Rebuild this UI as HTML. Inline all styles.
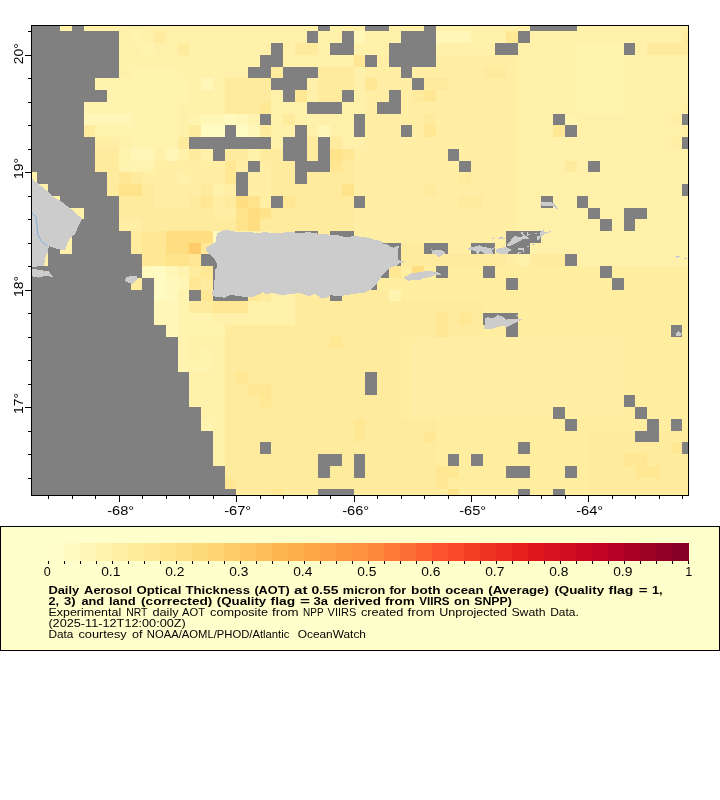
<!DOCTYPE html>
<html><head><meta charset="utf-8"><title>AOT map</title>
<style>
html,body{margin:0;padding:0;background:#fff;}
body{width:720px;height:800px;overflow:hidden;font-family:"Liberation Sans",sans-serif;}
svg{display:block;}
text{font-family:"Liberation Sans",sans-serif;fill:#000;}
.t12{font-size:12px;}
.t10n{font-size:10.5px;}
.t10b{font-size:10.5px;font-weight:bold;}
</style></head><body>
<svg width="720" height="800" viewBox="0 0 720 800">
<rect x="0" y="0" width="720" height="800" fill="#fff"/>
<g shape-rendering="crispEdges">
<rect x="31" y="25" width="29" height="6" fill="#808080"/>
<rect x="60" y="25" width="12" height="6" fill="#FFF1A9"/>
<rect x="72" y="25" width="12" height="6" fill="#808080"/>
<rect x="84" y="25" width="234" height="6" fill="#FFF1A9"/>
<rect x="318" y="25" width="12" height="6" fill="#808080"/>
<rect x="330" y="25" width="35" height="6" fill="#FFF1A9"/>
<rect x="365" y="25" width="24" height="6" fill="#808080"/>
<rect x="389" y="25" width="35" height="6" fill="#FFF1A9"/>
<rect x="424" y="25" width="12" height="6" fill="#808080"/>
<rect x="436" y="25" width="94" height="6" fill="#FFF1A9"/>
<rect x="530" y="25" width="47" height="6" fill="#808080"/>
<rect x="577" y="25" width="112" height="6" fill="#FFF1A9"/>
<rect x="31" y="31" width="88" height="12" fill="#808080"/>
<rect x="119" y="31" width="12" height="12" fill="#FFF1A9"/>
<rect x="131" y="31" width="11" height="12" fill="#FFF3B0"/>
<rect x="142" y="31" width="12" height="12" fill="#FFF1A9"/>
<rect x="154" y="31" width="12" height="12" fill="#FFEB9D"/>
<rect x="166" y="31" width="141" height="12" fill="#FFF1A9"/>
<rect x="307" y="31" width="11" height="12" fill="#808080"/>
<rect x="318" y="31" width="24" height="12" fill="#FFF1A9"/>
<rect x="342" y="31" width="12" height="12" fill="#808080"/>
<rect x="354" y="31" width="11" height="12" fill="#FFF6B7"/>
<rect x="365" y="31" width="36" height="12" fill="#FFF1A9"/>
<rect x="401" y="31" width="35" height="12" fill="#808080"/>
<rect x="436" y="31" width="35" height="12" fill="#FFF6B7"/>
<rect x="471" y="31" width="35" height="12" fill="#FFF1A9"/>
<rect x="506" y="31" width="12" height="12" fill="#FFE794"/>
<rect x="518" y="31" width="12" height="12" fill="#808080"/>
<rect x="530" y="31" width="152" height="12" fill="#FFF1A9"/>
<rect x="682" y="31" width="7" height="12" fill="#FFEB9D"/>
<rect x="31" y="43" width="88" height="12" fill="#808080"/>
<rect x="119" y="43" width="23" height="12" fill="#FFF1A9"/>
<rect x="142" y="43" width="12" height="12" fill="#FFF3B0"/>
<rect x="154" y="43" width="24" height="12" fill="#FFF1A9"/>
<rect x="178" y="43" width="11" height="12" fill="#FFEB9D"/>
<rect x="189" y="43" width="82" height="12" fill="#FFF1A9"/>
<rect x="271" y="43" width="12" height="12" fill="#808080"/>
<rect x="283" y="43" width="12" height="12" fill="#FFF1A9"/>
<rect x="295" y="43" width="23" height="12" fill="#FFEB9D"/>
<rect x="318" y="43" width="12" height="12" fill="#FFF1A9"/>
<rect x="330" y="43" width="24" height="12" fill="#808080"/>
<rect x="354" y="43" width="35" height="12" fill="#FFF1A9"/>
<rect x="389" y="43" width="47" height="12" fill="#808080"/>
<rect x="436" y="43" width="59" height="12" fill="#FFF1A9"/>
<rect x="495" y="43" width="23" height="12" fill="#808080"/>
<rect x="518" y="43" width="59" height="12" fill="#FFF1A9"/>
<rect x="577" y="43" width="47" height="12" fill="#FFF3B0"/>
<rect x="624" y="43" width="11" height="12" fill="#808080"/>
<rect x="635" y="43" width="12" height="12" fill="#FFF1A9"/>
<rect x="647" y="43" width="42" height="12" fill="#FFEB9D"/>
<rect x="31" y="55" width="88" height="12" fill="#808080"/>
<rect x="119" y="55" width="141" height="12" fill="#FFF1A9"/>
<rect x="260" y="55" width="23" height="12" fill="#808080"/>
<rect x="283" y="55" width="71" height="12" fill="#FFF1A9"/>
<rect x="354" y="55" width="11" height="12" fill="#FFE794"/>
<rect x="365" y="55" width="12" height="12" fill="#808080"/>
<rect x="377" y="55" width="12" height="12" fill="#FFEEA4"/>
<rect x="389" y="55" width="47" height="12" fill="#808080"/>
<rect x="436" y="55" width="82" height="12" fill="#FFEEA4"/>
<rect x="518" y="55" width="59" height="12" fill="#FFF1A9"/>
<rect x="577" y="55" width="47" height="12" fill="#FFF3B0"/>
<rect x="624" y="55" width="65" height="12" fill="#FFF1A9"/>
<rect x="31" y="67" width="88" height="11" fill="#808080"/>
<rect x="119" y="67" width="12" height="11" fill="#FFF1A9"/>
<rect x="131" y="67" width="47" height="11" fill="#FFF3B0"/>
<rect x="178" y="67" width="70" height="11" fill="#FFF1A9"/>
<rect x="248" y="67" width="23" height="11" fill="#808080"/>
<rect x="271" y="67" width="12" height="11" fill="#FFEB9D"/>
<rect x="283" y="67" width="35" height="11" fill="#808080"/>
<rect x="318" y="67" width="36" height="11" fill="#FFEB9D"/>
<rect x="354" y="67" width="11" height="11" fill="#FFF1A9"/>
<rect x="365" y="67" width="36" height="11" fill="#FFEEA4"/>
<rect x="401" y="67" width="11" height="11" fill="#808080"/>
<rect x="412" y="67" width="71" height="11" fill="#FFEEA4"/>
<rect x="483" y="67" width="23" height="11" fill="#FFEB9D"/>
<rect x="506" y="67" width="12" height="11" fill="#FFEEA4"/>
<rect x="518" y="67" width="59" height="11" fill="#FFF1A9"/>
<rect x="577" y="67" width="47" height="11" fill="#FFF3B0"/>
<rect x="624" y="67" width="65" height="11" fill="#FFF1A9"/>
<rect x="31" y="78" width="64" height="12" fill="#808080"/>
<rect x="95" y="78" width="94" height="12" fill="#FFF3B0"/>
<rect x="189" y="78" width="12" height="12" fill="#FFF1A9"/>
<rect x="201" y="78" width="12" height="12" fill="#FFF6B7"/>
<rect x="213" y="78" width="12" height="12" fill="#FFF1A9"/>
<rect x="225" y="78" width="46" height="12" fill="#FFEB9D"/>
<rect x="271" y="78" width="36" height="12" fill="#808080"/>
<rect x="307" y="78" width="11" height="12" fill="#FFF1A9"/>
<rect x="318" y="78" width="36" height="12" fill="#FFEB9D"/>
<rect x="354" y="78" width="11" height="12" fill="#FFF1A9"/>
<rect x="365" y="78" width="12" height="12" fill="#FFE794"/>
<rect x="377" y="78" width="35" height="12" fill="#FFEEA4"/>
<rect x="412" y="78" width="12" height="12" fill="#808080"/>
<rect x="424" y="78" width="24" height="12" fill="#FFEB9D"/>
<rect x="448" y="78" width="70" height="12" fill="#FFEEA4"/>
<rect x="518" y="78" width="59" height="12" fill="#FFF1A9"/>
<rect x="577" y="78" width="47" height="12" fill="#FFF3B0"/>
<rect x="624" y="78" width="65" height="12" fill="#FFF1A9"/>
<rect x="31" y="90" width="76" height="12" fill="#808080"/>
<rect x="107" y="90" width="82" height="12" fill="#FFF3B0"/>
<rect x="189" y="90" width="36" height="12" fill="#FFF1A9"/>
<rect x="225" y="90" width="46" height="12" fill="#FFEB9D"/>
<rect x="271" y="90" width="12" height="12" fill="#FFF1A9"/>
<rect x="283" y="90" width="12" height="12" fill="#808080"/>
<rect x="295" y="90" width="12" height="12" fill="#FFE794"/>
<rect x="307" y="90" width="11" height="12" fill="#FFF1A9"/>
<rect x="318" y="90" width="24" height="12" fill="#FFEB9D"/>
<rect x="342" y="90" width="12" height="12" fill="#808080"/>
<rect x="354" y="90" width="11" height="12" fill="#FFF1A9"/>
<rect x="365" y="90" width="24" height="12" fill="#FFEEA4"/>
<rect x="389" y="90" width="12" height="12" fill="#808080"/>
<rect x="401" y="90" width="11" height="12" fill="#FFEEA4"/>
<rect x="412" y="90" width="12" height="12" fill="#FFEB9D"/>
<rect x="424" y="90" width="12" height="12" fill="#FFE794"/>
<rect x="436" y="90" width="82" height="12" fill="#FFEEA4"/>
<rect x="518" y="90" width="59" height="12" fill="#FFF1A9"/>
<rect x="577" y="90" width="47" height="12" fill="#FFF3B0"/>
<rect x="624" y="90" width="65" height="12" fill="#FFF1A9"/>
<rect x="31" y="102" width="53" height="12" fill="#808080"/>
<rect x="84" y="102" width="94" height="12" fill="#FFF3B0"/>
<rect x="178" y="102" width="47" height="12" fill="#FFF1A9"/>
<rect x="225" y="102" width="35" height="12" fill="#FFEB9D"/>
<rect x="260" y="102" width="11" height="12" fill="#FFE794"/>
<rect x="271" y="102" width="36" height="12" fill="#FFF1A9"/>
<rect x="307" y="102" width="35" height="12" fill="#808080"/>
<rect x="342" y="102" width="23" height="12" fill="#FFF1A9"/>
<rect x="365" y="102" width="12" height="12" fill="#FFEEA4"/>
<rect x="377" y="102" width="24" height="12" fill="#808080"/>
<rect x="401" y="102" width="117" height="12" fill="#FFEEA4"/>
<rect x="518" y="102" width="59" height="12" fill="#FFF1A9"/>
<rect x="577" y="102" width="47" height="12" fill="#FFF3B0"/>
<rect x="624" y="102" width="58" height="12" fill="#FFF1A9"/>
<rect x="682" y="102" width="7" height="12" fill="#FFEEA4"/>
<rect x="31" y="114" width="53" height="11" fill="#808080"/>
<rect x="84" y="114" width="47" height="11" fill="#FFF6B7"/>
<rect x="131" y="114" width="47" height="11" fill="#FFF3B0"/>
<rect x="178" y="114" width="11" height="11" fill="#FFF1A9"/>
<rect x="189" y="114" width="12" height="11" fill="#FFF3B0"/>
<rect x="201" y="114" width="24" height="11" fill="#FFF6B7"/>
<rect x="225" y="114" width="11" height="11" fill="#FFF9BE"/>
<rect x="236" y="114" width="12" height="11" fill="#FFF6B7"/>
<rect x="248" y="114" width="12" height="11" fill="#FFF3B0"/>
<rect x="260" y="114" width="11" height="11" fill="#808080"/>
<rect x="271" y="114" width="12" height="11" fill="#FFF1A9"/>
<rect x="283" y="114" width="12" height="11" fill="#FFEB9D"/>
<rect x="295" y="114" width="59" height="11" fill="#FFF1A9"/>
<rect x="354" y="114" width="11" height="11" fill="#808080"/>
<rect x="365" y="114" width="59" height="11" fill="#FFEEA4"/>
<rect x="424" y="114" width="12" height="11" fill="#FFEB9D"/>
<rect x="436" y="114" width="82" height="11" fill="#FFEEA4"/>
<rect x="518" y="114" width="35" height="11" fill="#FFF1A9"/>
<rect x="553" y="114" width="12" height="11" fill="#808080"/>
<rect x="565" y="114" width="12" height="11" fill="#FFF3B0"/>
<rect x="577" y="114" width="94" height="11" fill="#FFF1A9"/>
<rect x="671" y="114" width="11" height="11" fill="#FFEEA4"/>
<rect x="682" y="114" width="7" height="11" fill="#808080"/>
<rect x="31" y="125" width="53" height="12" fill="#808080"/>
<rect x="84" y="125" width="11" height="12" fill="#FFEB9D"/>
<rect x="95" y="125" width="83" height="12" fill="#FFF3B0"/>
<rect x="178" y="125" width="11" height="12" fill="#FFF1A9"/>
<rect x="189" y="125" width="12" height="12" fill="#FFEB9D"/>
<rect x="201" y="125" width="24" height="12" fill="#FFFBC3"/>
<rect x="225" y="125" width="11" height="12" fill="#808080"/>
<rect x="236" y="125" width="12" height="12" fill="#FFFBC3"/>
<rect x="248" y="125" width="12" height="12" fill="#FFF6B7"/>
<rect x="260" y="125" width="11" height="12" fill="#FFEB9D"/>
<rect x="271" y="125" width="24" height="12" fill="#FFF1A9"/>
<rect x="295" y="125" width="12" height="12" fill="#808080"/>
<rect x="307" y="125" width="11" height="12" fill="#FFF1A9"/>
<rect x="318" y="125" width="12" height="12" fill="#FFF6B7"/>
<rect x="330" y="125" width="24" height="12" fill="#FFF1A9"/>
<rect x="354" y="125" width="11" height="12" fill="#808080"/>
<rect x="365" y="125" width="36" height="12" fill="#FFEEA4"/>
<rect x="401" y="125" width="11" height="12" fill="#808080"/>
<rect x="412" y="125" width="12" height="12" fill="#FFEEA4"/>
<rect x="424" y="125" width="12" height="12" fill="#FFE794"/>
<rect x="436" y="125" width="82" height="12" fill="#FFEEA4"/>
<rect x="518" y="125" width="35" height="12" fill="#FFF1A9"/>
<rect x="553" y="125" width="12" height="12" fill="#FFE794"/>
<rect x="565" y="125" width="12" height="12" fill="#808080"/>
<rect x="577" y="125" width="105" height="12" fill="#FFF1A9"/>
<rect x="682" y="125" width="7" height="12" fill="#FFEEA4"/>
<rect x="31" y="137" width="64" height="12" fill="#808080"/>
<rect x="95" y="137" width="24" height="12" fill="#FFEEA4"/>
<rect x="119" y="137" width="12" height="12" fill="#FFF1A9"/>
<rect x="131" y="137" width="47" height="12" fill="#FFF3B0"/>
<rect x="178" y="137" width="11" height="12" fill="#FFEB9D"/>
<rect x="189" y="137" width="82" height="12" fill="#808080"/>
<rect x="271" y="137" width="12" height="12" fill="#FFF1A9"/>
<rect x="283" y="137" width="24" height="12" fill="#808080"/>
<rect x="307" y="137" width="11" height="12" fill="#FFEB9D"/>
<rect x="318" y="137" width="12" height="12" fill="#808080"/>
<rect x="330" y="137" width="12" height="12" fill="#FFEB9D"/>
<rect x="342" y="137" width="23" height="12" fill="#FFF1A9"/>
<rect x="365" y="137" width="153" height="12" fill="#FFEEA4"/>
<rect x="518" y="137" width="153" height="12" fill="#FFF1A9"/>
<rect x="671" y="137" width="11" height="12" fill="#FFEEA4"/>
<rect x="682" y="137" width="7" height="12" fill="#808080"/>
<rect x="31" y="149" width="64" height="12" fill="#808080"/>
<rect x="95" y="149" width="24" height="12" fill="#FFEB9D"/>
<rect x="119" y="149" width="12" height="12" fill="#FFF3B0"/>
<rect x="131" y="149" width="23" height="12" fill="#FFF6B7"/>
<rect x="154" y="149" width="12" height="12" fill="#FFF1A9"/>
<rect x="166" y="149" width="12" height="12" fill="#FFF6B7"/>
<rect x="178" y="149" width="11" height="12" fill="#FFF1A9"/>
<rect x="189" y="149" width="12" height="12" fill="#FFEB9D"/>
<rect x="201" y="149" width="12" height="12" fill="#FFF1A9"/>
<rect x="213" y="149" width="12" height="12" fill="#808080"/>
<rect x="225" y="149" width="23" height="12" fill="#FFEB9D"/>
<rect x="248" y="149" width="12" height="12" fill="#FFF1A9"/>
<rect x="260" y="149" width="23" height="12" fill="#FFEB9D"/>
<rect x="283" y="149" width="24" height="12" fill="#808080"/>
<rect x="307" y="149" width="11" height="12" fill="#FFEB9D"/>
<rect x="318" y="149" width="12" height="12" fill="#808080"/>
<rect x="330" y="149" width="12" height="12" fill="#FEE38A"/>
<rect x="342" y="149" width="12" height="12" fill="#FFE794"/>
<rect x="354" y="149" width="94" height="12" fill="#FFEEA4"/>
<rect x="448" y="149" width="11" height="12" fill="#808080"/>
<rect x="459" y="149" width="59" height="12" fill="#FFEEA4"/>
<rect x="518" y="149" width="171" height="12" fill="#FFF1A9"/>
<rect x="31" y="161" width="64" height="11" fill="#808080"/>
<rect x="95" y="161" width="24" height="11" fill="#FFEB9D"/>
<rect x="119" y="161" width="35" height="11" fill="#FFF3B0"/>
<rect x="154" y="161" width="71" height="11" fill="#FFEEA4"/>
<rect x="225" y="161" width="11" height="11" fill="#FFE794"/>
<rect x="236" y="161" width="12" height="11" fill="#FFEEA4"/>
<rect x="248" y="161" width="12" height="11" fill="#808080"/>
<rect x="260" y="161" width="11" height="11" fill="#FFEEA4"/>
<rect x="271" y="161" width="24" height="11" fill="#FFEB9D"/>
<rect x="295" y="161" width="35" height="11" fill="#808080"/>
<rect x="330" y="161" width="12" height="11" fill="#FFE794"/>
<rect x="342" y="161" width="12" height="11" fill="#FFEB9D"/>
<rect x="354" y="161" width="105" height="11" fill="#FFEEA4"/>
<rect x="459" y="161" width="12" height="11" fill="#808080"/>
<rect x="471" y="161" width="47" height="11" fill="#FFEEA4"/>
<rect x="518" y="161" width="47" height="11" fill="#FFF1A9"/>
<rect x="565" y="161" width="12" height="11" fill="#FFEB9D"/>
<rect x="577" y="161" width="11" height="11" fill="#FFF1A9"/>
<rect x="588" y="161" width="12" height="11" fill="#808080"/>
<rect x="600" y="161" width="89" height="11" fill="#FFF1A9"/>
<rect x="31" y="172" width="6" height="12" fill="#FFF1A9"/>
<rect x="37" y="172" width="70" height="12" fill="#808080"/>
<rect x="107" y="172" width="12" height="12" fill="#FFEB9D"/>
<rect x="119" y="172" width="12" height="12" fill="#FFE794"/>
<rect x="131" y="172" width="11" height="12" fill="#FFEB9D"/>
<rect x="142" y="172" width="36" height="12" fill="#FFEEA4"/>
<rect x="178" y="172" width="11" height="12" fill="#FFF1A9"/>
<rect x="189" y="172" width="36" height="12" fill="#FFEEA4"/>
<rect x="225" y="172" width="11" height="12" fill="#FFE794"/>
<rect x="236" y="172" width="12" height="12" fill="#808080"/>
<rect x="248" y="172" width="23" height="12" fill="#FFEEA4"/>
<rect x="271" y="172" width="24" height="12" fill="#FFEB9D"/>
<rect x="295" y="172" width="12" height="12" fill="#808080"/>
<rect x="307" y="172" width="47" height="12" fill="#FFEB9D"/>
<rect x="354" y="172" width="105" height="12" fill="#FFEEA4"/>
<rect x="459" y="172" width="12" height="12" fill="#FFEB9D"/>
<rect x="471" y="172" width="47" height="12" fill="#FFEEA4"/>
<rect x="518" y="172" width="171" height="12" fill="#FFF1A9"/>
<rect x="31" y="184" width="17" height="12" fill="#FFF1A9"/>
<rect x="48" y="184" width="59" height="12" fill="#808080"/>
<rect x="107" y="184" width="12" height="12" fill="#FFEB9D"/>
<rect x="119" y="184" width="23" height="12" fill="#FEE38A"/>
<rect x="142" y="184" width="12" height="12" fill="#FFEB9D"/>
<rect x="154" y="184" width="47" height="12" fill="#FFEEA4"/>
<rect x="201" y="184" width="12" height="12" fill="#FFEB9D"/>
<rect x="213" y="184" width="12" height="12" fill="#FFF1A9"/>
<rect x="225" y="184" width="11" height="12" fill="#FFEEA4"/>
<rect x="236" y="184" width="12" height="12" fill="#808080"/>
<rect x="248" y="184" width="23" height="12" fill="#FFEEA4"/>
<rect x="271" y="184" width="71" height="12" fill="#FFEB9D"/>
<rect x="342" y="184" width="12" height="12" fill="#FEE38A"/>
<rect x="354" y="184" width="70" height="12" fill="#FFEEA4"/>
<rect x="424" y="184" width="12" height="12" fill="#FFEB9D"/>
<rect x="436" y="184" width="82" height="12" fill="#FFEEA4"/>
<rect x="518" y="184" width="164" height="12" fill="#FFF1A9"/>
<rect x="682" y="184" width="7" height="12" fill="#808080"/>
<rect x="31" y="196" width="29" height="12" fill="#FFF1A9"/>
<rect x="60" y="196" width="59" height="12" fill="#808080"/>
<rect x="119" y="196" width="35" height="12" fill="#FFEB9D"/>
<rect x="154" y="196" width="35" height="12" fill="#FFEEA4"/>
<rect x="189" y="196" width="12" height="12" fill="#FFEB9D"/>
<rect x="201" y="196" width="12" height="12" fill="#FFE794"/>
<rect x="213" y="196" width="12" height="12" fill="#FFEEA4"/>
<rect x="225" y="196" width="11" height="12" fill="#FFEB9D"/>
<rect x="236" y="196" width="12" height="12" fill="#FEDE80"/>
<rect x="248" y="196" width="12" height="12" fill="#FEE38A"/>
<rect x="260" y="196" width="11" height="12" fill="#FFEEA4"/>
<rect x="271" y="196" width="12" height="12" fill="#808080"/>
<rect x="283" y="196" width="12" height="12" fill="#FFE794"/>
<rect x="295" y="196" width="59" height="12" fill="#FFEB9D"/>
<rect x="354" y="196" width="11" height="12" fill="#808080"/>
<rect x="365" y="196" width="94" height="12" fill="#FFEEA4"/>
<rect x="459" y="196" width="24" height="12" fill="#FFEB9D"/>
<rect x="483" y="196" width="35" height="12" fill="#FFEEA4"/>
<rect x="518" y="196" width="23" height="12" fill="#FFF1A9"/>
<rect x="541" y="196" width="12" height="12" fill="#808080"/>
<rect x="553" y="196" width="24" height="12" fill="#FFF1A9"/>
<rect x="577" y="196" width="11" height="12" fill="#808080"/>
<rect x="588" y="196" width="101" height="12" fill="#FFF1A9"/>
<rect x="31" y="208" width="53" height="11" fill="#FFF1A9"/>
<rect x="84" y="208" width="35" height="11" fill="#808080"/>
<rect x="119" y="208" width="94" height="11" fill="#FFEB9D"/>
<rect x="213" y="208" width="23" height="11" fill="#FFEEA4"/>
<rect x="236" y="208" width="12" height="11" fill="#FEE38A"/>
<rect x="248" y="208" width="12" height="11" fill="#FEDE80"/>
<rect x="260" y="208" width="11" height="11" fill="#FEE38A"/>
<rect x="271" y="208" width="83" height="11" fill="#FFEB9D"/>
<rect x="354" y="208" width="164" height="11" fill="#FFEEA4"/>
<rect x="518" y="208" width="70" height="11" fill="#FFF1A9"/>
<rect x="588" y="208" width="12" height="11" fill="#808080"/>
<rect x="600" y="208" width="24" height="11" fill="#FFF1A9"/>
<rect x="624" y="208" width="23" height="11" fill="#808080"/>
<rect x="647" y="208" width="42" height="11" fill="#FFF1A9"/>
<rect x="31" y="219" width="41" height="12" fill="#FFF1A9"/>
<rect x="72" y="219" width="47" height="12" fill="#808080"/>
<rect x="119" y="219" width="23" height="12" fill="#FFEEA4"/>
<rect x="142" y="219" width="94" height="12" fill="#FFEB9D"/>
<rect x="236" y="219" width="12" height="12" fill="#FEE38A"/>
<rect x="248" y="219" width="12" height="12" fill="#FEDE80"/>
<rect x="260" y="219" width="94" height="12" fill="#FFEB9D"/>
<rect x="354" y="219" width="164" height="12" fill="#FFEEA4"/>
<rect x="518" y="219" width="82" height="12" fill="#FFF1A9"/>
<rect x="600" y="219" width="12" height="12" fill="#808080"/>
<rect x="612" y="219" width="12" height="12" fill="#FFF1A9"/>
<rect x="624" y="219" width="11" height="12" fill="#808080"/>
<rect x="635" y="219" width="54" height="12" fill="#FFF1A9"/>
<rect x="31" y="231" width="41" height="12" fill="#FFF1A9"/>
<rect x="72" y="231" width="59" height="12" fill="#808080"/>
<rect x="131" y="231" width="11" height="12" fill="#FFEB9D"/>
<rect x="142" y="231" width="24" height="12" fill="#FFE794"/>
<rect x="166" y="231" width="47" height="12" fill="#FEDE80"/>
<rect x="213" y="231" width="12" height="12" fill="#FFF9BE"/>
<rect x="225" y="231" width="46" height="12" fill="#FFF1A9"/>
<rect x="271" y="231" width="24" height="12" fill="#FFEB9D"/>
<rect x="295" y="231" width="23" height="12" fill="#808080"/>
<rect x="318" y="231" width="12" height="12" fill="#FFEB9D"/>
<rect x="330" y="231" width="24" height="12" fill="#808080"/>
<rect x="354" y="231" width="152" height="12" fill="#FFEEA4"/>
<rect x="506" y="231" width="35" height="12" fill="#808080"/>
<rect x="541" y="231" width="148" height="12" fill="#FFF1A9"/>
<rect x="31" y="243" width="17" height="11" fill="#FFF1A9"/>
<rect x="48" y="243" width="12" height="11" fill="#808080"/>
<rect x="60" y="243" width="12" height="11" fill="#FFF1A9"/>
<rect x="72" y="243" width="59" height="11" fill="#808080"/>
<rect x="131" y="243" width="11" height="11" fill="#FFEB9D"/>
<rect x="142" y="243" width="24" height="11" fill="#FFE794"/>
<rect x="166" y="243" width="23" height="11" fill="#FEDE80"/>
<rect x="189" y="243" width="12" height="11" fill="#FECD69"/>
<rect x="201" y="243" width="12" height="11" fill="#FFE794"/>
<rect x="213" y="243" width="58" height="11" fill="#FFF1A9"/>
<rect x="271" y="243" width="83" height="11" fill="#FFEB9D"/>
<rect x="354" y="243" width="23" height="11" fill="#FFEEA4"/>
<rect x="377" y="243" width="24" height="11" fill="#808080"/>
<rect x="401" y="243" width="23" height="11" fill="#FFEB9D"/>
<rect x="424" y="243" width="24" height="11" fill="#808080"/>
<rect x="448" y="243" width="23" height="11" fill="#FFEEA4"/>
<rect x="471" y="243" width="24" height="11" fill="#808080"/>
<rect x="495" y="243" width="11" height="11" fill="#FFEEA4"/>
<rect x="506" y="243" width="24" height="11" fill="#808080"/>
<rect x="530" y="243" width="159" height="11" fill="#FFF1A9"/>
<rect x="31" y="254" width="17" height="12" fill="#FFF1A9"/>
<rect x="48" y="254" width="94" height="12" fill="#808080"/>
<rect x="142" y="254" width="24" height="12" fill="#FFE794"/>
<rect x="166" y="254" width="23" height="12" fill="#FEE38A"/>
<rect x="189" y="254" width="12" height="12" fill="#FFE794"/>
<rect x="201" y="254" width="24" height="12" fill="#808080"/>
<rect x="225" y="254" width="46" height="12" fill="#FFF1A9"/>
<rect x="271" y="254" width="83" height="12" fill="#FFEB9D"/>
<rect x="354" y="254" width="35" height="12" fill="#FFEEA4"/>
<rect x="389" y="254" width="12" height="12" fill="#808080"/>
<rect x="401" y="254" width="105" height="12" fill="#FFEB9D"/>
<rect x="506" y="254" width="12" height="12" fill="#FFEEA4"/>
<rect x="518" y="254" width="12" height="12" fill="#FFF1A9"/>
<rect x="530" y="254" width="35" height="12" fill="#FFEB9D"/>
<rect x="565" y="254" width="12" height="12" fill="#808080"/>
<rect x="577" y="254" width="112" height="12" fill="#FFF1A9"/>
<rect x="31" y="266" width="111" height="12" fill="#808080"/>
<rect x="142" y="266" width="12" height="12" fill="#FFF9BE"/>
<rect x="154" y="266" width="12" height="12" fill="#FFFBC3"/>
<rect x="166" y="266" width="12" height="12" fill="#FFF6B7"/>
<rect x="178" y="266" width="11" height="12" fill="#FFF3B0"/>
<rect x="189" y="266" width="12" height="12" fill="#FFEB9D"/>
<rect x="201" y="266" width="12" height="12" fill="#FFE794"/>
<rect x="213" y="266" width="12" height="12" fill="#808080"/>
<rect x="225" y="266" width="46" height="12" fill="#FFF1A9"/>
<rect x="271" y="266" width="83" height="12" fill="#FFEB9D"/>
<rect x="354" y="266" width="23" height="12" fill="#FFEDA0"/>
<rect x="377" y="266" width="12" height="12" fill="#808080"/>
<rect x="389" y="266" width="12" height="12" fill="#FFE794"/>
<rect x="401" y="266" width="11" height="12" fill="#FFEDA0"/>
<rect x="412" y="266" width="12" height="12" fill="#FEDE80"/>
<rect x="424" y="266" width="12" height="12" fill="#FFEDA0"/>
<rect x="436" y="266" width="12" height="12" fill="#808080"/>
<rect x="448" y="266" width="35" height="12" fill="#FFEDA0"/>
<rect x="483" y="266" width="12" height="12" fill="#808080"/>
<rect x="495" y="266" width="105" height="12" fill="#FFEDA0"/>
<rect x="600" y="266" width="12" height="12" fill="#808080"/>
<rect x="612" y="266" width="77" height="12" fill="#FFEDA0"/>
<rect x="31" y="278" width="100" height="12" fill="#808080"/>
<rect x="131" y="278" width="11" height="12" fill="#FFEB9D"/>
<rect x="142" y="278" width="12" height="12" fill="#808080"/>
<rect x="154" y="278" width="12" height="12" fill="#FFFBC3"/>
<rect x="166" y="278" width="12" height="12" fill="#FFF9BE"/>
<rect x="178" y="278" width="11" height="12" fill="#FFF6B7"/>
<rect x="189" y="278" width="12" height="12" fill="#FFE794"/>
<rect x="201" y="278" width="12" height="12" fill="#FFEB9D"/>
<rect x="213" y="278" width="12" height="12" fill="#808080"/>
<rect x="225" y="278" width="46" height="12" fill="#FFF1A9"/>
<rect x="271" y="278" width="83" height="12" fill="#FFEB9D"/>
<rect x="354" y="278" width="11" height="12" fill="#FFEDA0"/>
<rect x="365" y="278" width="12" height="12" fill="#808080"/>
<rect x="377" y="278" width="129" height="12" fill="#FFEDA0"/>
<rect x="506" y="278" width="12" height="12" fill="#808080"/>
<rect x="518" y="278" width="94" height="12" fill="#FFEDA0"/>
<rect x="612" y="278" width="12" height="12" fill="#808080"/>
<rect x="624" y="278" width="65" height="12" fill="#FFEDA0"/>
<rect x="31" y="290" width="123" height="11" fill="#808080"/>
<rect x="154" y="290" width="12" height="11" fill="#FFFBC3"/>
<rect x="166" y="290" width="12" height="11" fill="#FFF9BE"/>
<rect x="178" y="290" width="11" height="11" fill="#FFF3B0"/>
<rect x="189" y="290" width="12" height="11" fill="#808080"/>
<rect x="201" y="290" width="12" height="11" fill="#FFE794"/>
<rect x="213" y="290" width="35" height="11" fill="#808080"/>
<rect x="248" y="290" width="12" height="11" fill="#FFE794"/>
<rect x="260" y="290" width="11" height="11" fill="#FFEB9D"/>
<rect x="271" y="290" width="24" height="11" fill="#FFF1A9"/>
<rect x="295" y="290" width="35" height="11" fill="#FFEB9D"/>
<rect x="330" y="290" width="12" height="11" fill="#808080"/>
<rect x="342" y="290" width="47" height="11" fill="#FFEB9D"/>
<rect x="389" y="290" width="12" height="11" fill="#FFF3B0"/>
<rect x="401" y="290" width="288" height="11" fill="#FFEDA0"/>
<rect x="31" y="301" width="123" height="12" fill="#808080"/>
<rect x="154" y="301" width="24" height="12" fill="#FFF6B7"/>
<rect x="178" y="301" width="11" height="12" fill="#FFF3B0"/>
<rect x="189" y="301" width="24" height="12" fill="#FFEB9D"/>
<rect x="213" y="301" width="35" height="12" fill="#FFE794"/>
<rect x="248" y="301" width="47" height="12" fill="#FFF1A9"/>
<rect x="295" y="301" width="188" height="12" fill="#FFEB9D"/>
<rect x="483" y="301" width="206" height="12" fill="#FFEDA0"/>
<rect x="31" y="313" width="123" height="12" fill="#808080"/>
<rect x="154" y="313" width="24" height="12" fill="#FFF6B7"/>
<rect x="178" y="313" width="35" height="12" fill="#FFF3B0"/>
<rect x="213" y="313" width="82" height="12" fill="#FFF1A9"/>
<rect x="295" y="313" width="141" height="12" fill="#FFEB9D"/>
<rect x="436" y="313" width="12" height="12" fill="#FFE794"/>
<rect x="448" y="313" width="11" height="12" fill="#FFEB9D"/>
<rect x="459" y="313" width="12" height="12" fill="#FFE794"/>
<rect x="471" y="313" width="12" height="12" fill="#FFEB9D"/>
<rect x="483" y="313" width="35" height="12" fill="#808080"/>
<rect x="518" y="313" width="171" height="12" fill="#FFEDA0"/>
<rect x="31" y="325" width="135" height="12" fill="#808080"/>
<rect x="166" y="325" width="12" height="12" fill="#FFF6B7"/>
<rect x="178" y="325" width="47" height="12" fill="#FFF3B0"/>
<rect x="225" y="325" width="211" height="12" fill="#FFEB9D"/>
<rect x="436" y="325" width="12" height="12" fill="#FFE794"/>
<rect x="448" y="325" width="35" height="12" fill="#FFEB9D"/>
<rect x="483" y="325" width="23" height="12" fill="#FFEDA0"/>
<rect x="506" y="325" width="12" height="12" fill="#808080"/>
<rect x="518" y="325" width="153" height="12" fill="#FFEDA0"/>
<rect x="671" y="325" width="11" height="12" fill="#808080"/>
<rect x="682" y="325" width="7" height="12" fill="#FFEDA0"/>
<rect x="31" y="337" width="147" height="11" fill="#808080"/>
<rect x="178" y="337" width="11" height="11" fill="#FFF3B0"/>
<rect x="189" y="337" width="36" height="11" fill="#FFF1A9"/>
<rect x="225" y="337" width="105" height="11" fill="#FFEB9D"/>
<rect x="330" y="337" width="12" height="11" fill="#FFE794"/>
<rect x="342" y="337" width="59" height="11" fill="#FFEB9D"/>
<rect x="401" y="337" width="11" height="11" fill="#FFEDA0"/>
<rect x="412" y="337" width="212" height="11" fill="#FFEEA4"/>
<rect x="624" y="337" width="65" height="11" fill="#FFEDA0"/>
<rect x="31" y="348" width="147" height="12" fill="#808080"/>
<rect x="178" y="348" width="11" height="12" fill="#FFF3B0"/>
<rect x="189" y="348" width="12" height="12" fill="#FFF1A9"/>
<rect x="201" y="348" width="12" height="12" fill="#FFF3B0"/>
<rect x="213" y="348" width="12" height="12" fill="#FFF1A9"/>
<rect x="225" y="348" width="176" height="12" fill="#FFEB9D"/>
<rect x="401" y="348" width="11" height="12" fill="#FFEDA0"/>
<rect x="412" y="348" width="212" height="12" fill="#FFEEA4"/>
<rect x="624" y="348" width="65" height="12" fill="#FFEDA0"/>
<rect x="31" y="360" width="147" height="12" fill="#808080"/>
<rect x="178" y="360" width="35" height="12" fill="#FFF3B0"/>
<rect x="213" y="360" width="12" height="12" fill="#FFF1A9"/>
<rect x="225" y="360" width="176" height="12" fill="#FFEB9D"/>
<rect x="401" y="360" width="11" height="12" fill="#FFEDA0"/>
<rect x="412" y="360" width="212" height="12" fill="#FFEEA4"/>
<rect x="624" y="360" width="65" height="12" fill="#FFEDA0"/>
<rect x="31" y="372" width="158" height="12" fill="#808080"/>
<rect x="189" y="372" width="36" height="12" fill="#FFF1A9"/>
<rect x="225" y="372" width="11" height="12" fill="#FFEB9D"/>
<rect x="236" y="372" width="12" height="12" fill="#FFE794"/>
<rect x="248" y="372" width="117" height="12" fill="#FFEB9D"/>
<rect x="365" y="372" width="12" height="12" fill="#808080"/>
<rect x="377" y="372" width="24" height="12" fill="#FFEB9D"/>
<rect x="401" y="372" width="11" height="12" fill="#FFEDA0"/>
<rect x="412" y="372" width="212" height="12" fill="#FFEEA4"/>
<rect x="624" y="372" width="65" height="12" fill="#FFEDA0"/>
<rect x="31" y="384" width="158" height="11" fill="#808080"/>
<rect x="189" y="384" width="36" height="11" fill="#FFF1A9"/>
<rect x="225" y="384" width="23" height="11" fill="#FFEB9D"/>
<rect x="248" y="384" width="23" height="11" fill="#FFE794"/>
<rect x="271" y="384" width="94" height="11" fill="#FFEB9D"/>
<rect x="365" y="384" width="12" height="11" fill="#808080"/>
<rect x="377" y="384" width="24" height="11" fill="#FFEB9D"/>
<rect x="401" y="384" width="11" height="11" fill="#FFEDA0"/>
<rect x="412" y="384" width="212" height="11" fill="#FFEEA4"/>
<rect x="624" y="384" width="65" height="11" fill="#FFEDA0"/>
<rect x="31" y="395" width="158" height="12" fill="#808080"/>
<rect x="189" y="395" width="36" height="12" fill="#FFF1A9"/>
<rect x="225" y="395" width="35" height="12" fill="#FFEB9D"/>
<rect x="260" y="395" width="11" height="12" fill="#FFE794"/>
<rect x="271" y="395" width="130" height="12" fill="#FFEB9D"/>
<rect x="401" y="395" width="11" height="12" fill="#FFEDA0"/>
<rect x="412" y="395" width="212" height="12" fill="#FFEEA4"/>
<rect x="624" y="395" width="11" height="12" fill="#808080"/>
<rect x="635" y="395" width="54" height="12" fill="#FFEDA0"/>
<rect x="31" y="407" width="170" height="12" fill="#808080"/>
<rect x="201" y="407" width="24" height="12" fill="#FFF1A9"/>
<rect x="225" y="407" width="176" height="12" fill="#FFEB9D"/>
<rect x="401" y="407" width="11" height="12" fill="#FFEDA0"/>
<rect x="412" y="407" width="141" height="12" fill="#FFEEA4"/>
<rect x="553" y="407" width="12" height="12" fill="#808080"/>
<rect x="565" y="407" width="59" height="12" fill="#FFEEA4"/>
<rect x="624" y="407" width="11" height="12" fill="#FFEDA0"/>
<rect x="635" y="407" width="12" height="12" fill="#808080"/>
<rect x="647" y="407" width="42" height="12" fill="#FFEDA0"/>
<rect x="31" y="419" width="170" height="12" fill="#808080"/>
<rect x="201" y="419" width="12" height="12" fill="#FFF3B0"/>
<rect x="213" y="419" width="12" height="12" fill="#FFF1A9"/>
<rect x="225" y="419" width="129" height="12" fill="#FFEB9D"/>
<rect x="354" y="419" width="11" height="12" fill="#FFE794"/>
<rect x="365" y="419" width="71" height="12" fill="#FFEB9D"/>
<rect x="436" y="419" width="129" height="12" fill="#FFEDA0"/>
<rect x="565" y="419" width="12" height="12" fill="#808080"/>
<rect x="577" y="419" width="70" height="12" fill="#FFEDA0"/>
<rect x="647" y="419" width="12" height="12" fill="#808080"/>
<rect x="659" y="419" width="12" height="12" fill="#FFEDA0"/>
<rect x="671" y="419" width="11" height="12" fill="#808080"/>
<rect x="682" y="419" width="7" height="12" fill="#FFEDA0"/>
<rect x="31" y="431" width="182" height="11" fill="#808080"/>
<rect x="213" y="431" width="12" height="11" fill="#FFF1A9"/>
<rect x="225" y="431" width="129" height="11" fill="#FFEB9D"/>
<rect x="354" y="431" width="11" height="11" fill="#FFE794"/>
<rect x="365" y="431" width="59" height="11" fill="#FFEB9D"/>
<rect x="424" y="431" width="12" height="11" fill="#FFE794"/>
<rect x="436" y="431" width="152" height="11" fill="#FFEDA0"/>
<rect x="588" y="431" width="47" height="11" fill="#FFEB9D"/>
<rect x="635" y="431" width="24" height="11" fill="#808080"/>
<rect x="659" y="431" width="30" height="11" fill="#FFEB9D"/>
<rect x="31" y="442" width="182" height="12" fill="#808080"/>
<rect x="213" y="442" width="12" height="12" fill="#FFF1A9"/>
<rect x="225" y="442" width="35" height="12" fill="#FFEB9D"/>
<rect x="260" y="442" width="11" height="12" fill="#808080"/>
<rect x="271" y="442" width="165" height="12" fill="#FFEB9D"/>
<rect x="436" y="442" width="82" height="12" fill="#FFEDA0"/>
<rect x="518" y="442" width="12" height="12" fill="#808080"/>
<rect x="530" y="442" width="58" height="12" fill="#FFEDA0"/>
<rect x="588" y="442" width="83" height="12" fill="#FFEB9D"/>
<rect x="671" y="442" width="11" height="12" fill="#FFE794"/>
<rect x="682" y="442" width="7" height="12" fill="#808080"/>
<rect x="31" y="454" width="182" height="12" fill="#808080"/>
<rect x="213" y="454" width="12" height="12" fill="#FFF1A9"/>
<rect x="225" y="454" width="93" height="12" fill="#FFEB9D"/>
<rect x="318" y="454" width="24" height="12" fill="#808080"/>
<rect x="342" y="454" width="12" height="12" fill="#FFEB9D"/>
<rect x="354" y="454" width="11" height="12" fill="#808080"/>
<rect x="365" y="454" width="71" height="12" fill="#FFEB9D"/>
<rect x="436" y="454" width="12" height="12" fill="#FFEDA0"/>
<rect x="448" y="454" width="11" height="12" fill="#808080"/>
<rect x="459" y="454" width="12" height="12" fill="#FFEDA0"/>
<rect x="471" y="454" width="12" height="12" fill="#808080"/>
<rect x="483" y="454" width="105" height="12" fill="#FFEDA0"/>
<rect x="588" y="454" width="36" height="12" fill="#FFEB9D"/>
<rect x="624" y="454" width="23" height="12" fill="#FFE794"/>
<rect x="647" y="454" width="42" height="12" fill="#FFEB9D"/>
<rect x="31" y="466" width="194" height="12" fill="#808080"/>
<rect x="225" y="466" width="93" height="12" fill="#FFEB9D"/>
<rect x="318" y="466" width="12" height="12" fill="#808080"/>
<rect x="330" y="466" width="24" height="12" fill="#FFEB9D"/>
<rect x="354" y="466" width="11" height="12" fill="#808080"/>
<rect x="365" y="466" width="71" height="12" fill="#FFEB9D"/>
<rect x="436" y="466" width="23" height="12" fill="#FFE794"/>
<rect x="459" y="466" width="47" height="12" fill="#FFEDA0"/>
<rect x="506" y="466" width="24" height="12" fill="#808080"/>
<rect x="530" y="466" width="35" height="12" fill="#FFEDA0"/>
<rect x="565" y="466" width="12" height="12" fill="#808080"/>
<rect x="577" y="466" width="11" height="12" fill="#FFEDA0"/>
<rect x="588" y="466" width="47" height="12" fill="#FFEB9D"/>
<rect x="635" y="466" width="24" height="12" fill="#FFE794"/>
<rect x="659" y="466" width="30" height="12" fill="#FFEB9D"/>
<rect x="31" y="478" width="194" height="11" fill="#808080"/>
<rect x="225" y="478" width="11" height="11" fill="#FFE794"/>
<rect x="236" y="478" width="200" height="11" fill="#FFEB9D"/>
<rect x="436" y="478" width="12" height="11" fill="#FFE794"/>
<rect x="448" y="478" width="140" height="11" fill="#FFEDA0"/>
<rect x="588" y="478" width="101" height="11" fill="#FFEB9D"/>
<rect x="31" y="489" width="205" height="7" fill="#808080"/>
<rect x="236" y="489" width="35" height="7" fill="#FFEB9D"/>
<rect x="271" y="489" width="12" height="7" fill="#FFE794"/>
<rect x="283" y="489" width="35" height="7" fill="#FFEB9D"/>
<rect x="318" y="489" width="36" height="7" fill="#808080"/>
<rect x="354" y="489" width="82" height="7" fill="#FFEB9D"/>
<rect x="436" y="489" width="12" height="7" fill="#FFEDA0"/>
<rect x="448" y="489" width="11" height="7" fill="#FEE38A"/>
<rect x="459" y="489" width="59" height="7" fill="#FFEDA0"/>
<rect x="518" y="489" width="12" height="7" fill="#808080"/>
<rect x="530" y="489" width="23" height="7" fill="#FFEDA0"/>
<rect x="553" y="489" width="12" height="7" fill="#808080"/>
<rect x="565" y="489" width="23" height="7" fill="#FFEDA0"/>
<rect x="588" y="489" width="101" height="7" fill="#FFEB9D"/>
</g>
<g clip-path="url(#mapclip)">
<clipPath id="mapclip"><rect x="32" y="26" width="656" height="469"/></clipPath>
<g fill="#CCCCCC" stroke="none" shape-rendering="crispEdges">
<!-- Hispaniola east tip -->
<path d="M31,178 L47.5,191.2 L52.7,196.5 L60.2,200.7 L72.2,210 L82,218.7 L77.5,228 L75.2,234 L70,238.5 L67.7,242.2 L65.2,250.5 L57.2,249 L49,246 L47.5,253.5 L45.2,258 L44.2,265.5 L40,266.2 L31,267 Z"/>
<path d="M31,268.5 L40,270 L49,271.5 L52.7,276.7 L44.5,276.2 L38.5,277.7 L31,276.2 Z"/>
<!-- Mona -->
<path d="M125,279.8 L126.25,277.3 L129.4,276.25 L136.6,276.1 L137.8,278.6 L135.6,280.75 L133.1,283.9 L130.9,283.6 L128.1,282.6 L125.9,281.4 Z"/>
<!-- Desecheo -->
<rect x="180.5" y="245" width="1.5" height="1" fill="#C4C4C8"/>
<!-- Puerto Rico -->
<path d="M216.8,233.5 L222.9,230.4 L229,230.4 L236.7,231.9 L245.8,231.9 L255,232.7 L265.7,232.4 L276.4,233 L285.6,232.4 L294.7,232.4 L300,233.5 L307.6,231.9 L316.8,233.5 L327.5,234.5 L338.2,235.4 L345.8,237.3 L355,236 L365.7,237.3 L370,238.1 L375,239.7 L381.9,241.25 L383.4,243.75 L386.25,244.4 L388.1,245 L390.6,246.9 L393.75,247.8 L396.25,246.25 L399.4,245.3 L398.1,249.4 L397.8,253.75 L398.1,259.4 L400.6,260.9 L403.75,261.25 L402.5,263.4 L399.4,263.1 L397.5,265 L395,266.25 L390.6,267.5 L388.75,269 L385,272.5 L381.25,276.6 L379.4,280 L376.4,284.6 L371.8,289.2 L364.2,293 L353.5,293.8 L345.8,295.3 L338.2,296.1 L330.6,295.3 L326,298.4 L319.9,297.6 L315.3,293.8 L309.2,296.1 L299.3,293 L291.7,293.8 L282.5,295.3 L273.3,293 L265.7,293.8 L262.6,291.5 L261,293.8 L253.5,296.6 L245.8,296.9 L238.2,296.1 L230.6,294.6 L224.4,297.6 L216.8,296.9 L213,296.1 L211.5,293 L213.8,289.2 L214.5,280 L215.3,269.4 L217.6,267 L216,261.7 L213.8,257.9 L206.9,251.8 L205.3,248 L210.7,244.9 L216,241.9 Z"/>
<!-- Culebra -->
<path d="M430.8,248.75 L433.3,250.8 L435.8,250 L439.2,250.4 L441.7,250 L443.3,251.25 L445.4,253.3 L443.3,254.2 L441.7,255.4 L438.75,257.5 L436.7,255.4 L434.2,253.3 L432.9,255.4 L432.1,253.3 L432.5,251.7 Z"/>
<!-- Vieques -->
<path d="M404.2,276.7 L407.5,275.8 L411.25,273.3 L415,272.9 L420,272.1 L424.2,271.25 L431.7,271.25 L435.8,272.1 L439.2,272.9 L440.8,274.6 L438.3,274.6 L435.8,275 L433.3,275.8 L430.8,277.1 L427.5,277.5 L424.2,277.9 L421.7,279.2 L418.3,280.4 L413.3,280 L408.3,280.7 L405,279.2 Z"/>
<!-- St Thomas -->
<path d="M467.1,248.7 L470,247.4 L475,246.6 L476.7,245.75 L480,245.3 L482.5,246.6 L485,247 L488.3,247.8 L491.7,248.7 L495,247 L493.3,249.5 L491.7,251.2 L493.3,253.7 L488.3,254.1 L484.2,254.1 L482.1,252 L480,251.2 L479.2,253.25 L477.5,254.1 L475,250.75 L470.8,250.3 L468.3,249.9 Z"/>
<!-- St John -->
<path d="M495.8,249.5 L498.3,248.25 L502.5,247.8 L505,247 L507.5,247.8 L510,248.7 L511.7,250.3 L509.2,251.2 L507.5,253.7 L503.3,253.7 L499.2,253.7 L496.25,252.8 Z"/>
<!-- Jost van Dyke -->
<path d="M491.25,238.7 L493.6,237.3 L493.75,238.7 Z"/>
<path d="M497.9,238.7 L499.5,237.3 L501.7,236.2 L503,237.4 L505,238 L505,238.7 Z"/>
<!-- Tortola -->
<path d="M507.1,244.5 L510,242 L512.1,238.25 L514.2,236.2 L516.7,236.2 L519.2,237.4 L521.7,237 L522.9,235.75 L520.8,232.4 L522.5,232.4 L524.6,235.3 L528.3,237 L528.75,239.1 L525.8,239.1 L523.75,238.7 L521.7,239.9 L519.2,241.6 L515.8,242.8 L513.3,244.5 L510,245.75 L507.5,246.2 Z"/>
<rect x="526.7" y="231.6" width="1.3" height="4.2"/>
<rect x="527.9" y="234" width="2.5" height="1"/>
<rect x="535" y="232.8" width="1.7" height="0.9"/>
<!-- Virgin Gorda -->
<path d="M537.1,236.2 L539.6,236.2 L540.4,232.4 L542.5,229.9 L543.75,229.5 L544.2,231.6 L546.7,232.4 L550,231.2 L551.7,231.2 L549.6,232.4 L546.7,233.25 L544.2,234.5 L541.7,236.6 L540,237.4 L539.2,240.3 L537.1,240.3 Z"/>
<rect x="532" y="244" width="3" height="1" fill="#C8C8D0"/>
<rect x="527" y="245.75" width="1.75" height="1.65"/>
<rect x="518.3" y="248.25" width="5.45" height="1.25"/>
<rect x="522.5" y="248.25" width="1.25" height="3.35"/>
<path d="M516.25,254 L517.5,252.6 L520.8,252 L520.8,253 L518,254 Z"/>
<!-- Anegada -->
<path d="M540,203.3 L541.1,202.5 L551.7,202.2 L553.3,203.3 L555.6,204.7 L556.7,206.7 L557.8,208.6 L556.1,208.6 L554.4,207.2 L553.3,206.4 L548.3,206.4 L547.8,205.6 L542.2,205.6 L541.1,204.2 Z"/>
<!-- St Croix -->
<path d="M483.1,328.25 L484.75,326 L485.5,323.75 L484.4,321.1 L485.5,318.1 L487.75,317 L490,318.1 L493,317.75 L496,316.25 L498.25,315.1 L499.75,316.6 L502,316.25 L504.25,318.1 L506.5,319.6 L509.5,319.25 L513.25,319.25 L517.75,319.25 L523,319.1 L520.75,320.4 L517.75,321.5 L514.75,323 L511.75,324.5 L508.75,326 L506.5,327.1 L504.25,326 L500.5,326.4 L496,327.5 L493,328.6 L488.5,328.6 L484.75,328.85 Z"/>
<rect x="515.5" y="315.1" width="2.25" height="0.8"/>
<!-- Saba -->
<path d="M676.1,335.8 L676.1,333.6 L677.2,332.4 L678.3,331.1 L679.2,331.9 L680.6,332.7 L681.9,333.8 L681.4,334.7 L681.4,335.8 Z"/>
<!-- specks -->
<rect x="676" y="256" width="4" height="1" fill="#C9C9D6"/><rect x="676" y="257" width="2" height="0.7" fill="#C9C9D6"/>
<rect x="684" y="258" width="3" height="0.8" fill="#C9C9D6"/>
<rect x="402" y="244" width="0.8" height="0.9" fill="#D0D0D8"/><rect x="405" y="249" width="0.8" height="0.9" fill="#D0D0D8"/>
</g>
<path d="M31,212 L36,217 L37,225 L37.7,234 L41.5,241.5 L47.5,246" fill="none" stroke="#6FA8DC" stroke-width="0.8"/>

</g>
<g shape-rendering="crispEdges">
<rect x="31.5" y="25.5" width="657" height="470" fill="none" stroke="#000" stroke-width="1"/>
<rect x="48" y="495" width="1" height="4" fill="#000"/>
<rect x="72" y="495" width="1" height="4" fill="#000"/>
<rect x="95" y="495" width="1" height="4" fill="#000"/>
<rect x="119" y="495" width="1" height="7" fill="#000"/>
<rect x="142" y="495" width="1" height="4" fill="#000"/>
<rect x="166" y="495" width="1" height="4" fill="#000"/>
<rect x="189" y="495" width="1" height="4" fill="#000"/>
<rect x="213" y="495" width="1" height="4" fill="#000"/>
<rect x="236" y="495" width="1" height="7" fill="#000"/>
<rect x="260" y="495" width="1" height="4" fill="#000"/>
<rect x="283" y="495" width="1" height="4" fill="#000"/>
<rect x="307" y="495" width="1" height="4" fill="#000"/>
<rect x="330" y="495" width="1" height="4" fill="#000"/>
<rect x="354" y="495" width="1" height="7" fill="#000"/>
<rect x="377" y="495" width="1" height="4" fill="#000"/>
<rect x="401" y="495" width="1" height="4" fill="#000"/>
<rect x="424" y="495" width="1" height="4" fill="#000"/>
<rect x="448" y="495" width="1" height="4" fill="#000"/>
<rect x="471" y="495" width="1" height="7" fill="#000"/>
<rect x="495" y="495" width="1" height="4" fill="#000"/>
<rect x="518" y="495" width="1" height="4" fill="#000"/>
<rect x="541" y="495" width="1" height="4" fill="#000"/>
<rect x="565" y="495" width="1" height="4" fill="#000"/>
<rect x="588" y="495" width="1" height="7" fill="#000"/>
<rect x="612" y="495" width="1" height="4" fill="#000"/>
<rect x="635" y="495" width="1" height="4" fill="#000"/>
<rect x="659" y="495" width="1" height="4" fill="#000"/>
<rect x="682" y="495" width="1" height="4" fill="#000"/>
<rect x="28" y="31" width="3" height="1" fill="#000"/>
<rect x="25" y="55" width="6" height="1" fill="#000"/>
<rect x="28" y="78" width="3" height="1" fill="#000"/>
<rect x="28" y="102" width="3" height="1" fill="#000"/>
<rect x="28" y="125" width="3" height="1" fill="#000"/>
<rect x="28" y="149" width="3" height="1" fill="#000"/>
<rect x="25" y="172" width="6" height="1" fill="#000"/>
<rect x="28" y="196" width="3" height="1" fill="#000"/>
<rect x="28" y="219" width="3" height="1" fill="#000"/>
<rect x="28" y="243" width="3" height="1" fill="#000"/>
<rect x="28" y="266" width="3" height="1" fill="#000"/>
<rect x="25" y="290" width="6" height="1" fill="#000"/>
<rect x="28" y="313" width="3" height="1" fill="#000"/>
<rect x="28" y="337" width="3" height="1" fill="#000"/>
<rect x="28" y="360" width="3" height="1" fill="#000"/>
<rect x="28" y="384" width="3" height="1" fill="#000"/>
<rect x="25" y="407" width="6" height="1" fill="#000"/>
<rect x="28" y="431" width="3" height="1" fill="#000"/>
<rect x="28" y="454" width="3" height="1" fill="#000"/>
<rect x="28" y="478" width="3" height="1" fill="#000"/>
</g>
<g shape-rendering="crispEdges">
<rect x="0.5" y="526.5" width="719" height="124" fill="#FFFFCC" stroke="#000" stroke-width="1"/>
<rect x="48" y="543" width="16" height="18" fill="#FFFDC8"/>
<rect x="64" y="543" width="16" height="18" fill="#FFFABF"/>
<rect x="80" y="543" width="16" height="18" fill="#FFF6B6"/>
<rect x="96" y="543" width="16" height="18" fill="#FFF2AD"/>
<rect x="112" y="543" width="16" height="18" fill="#FFEFA4"/>
<rect x="128" y="543" width="16" height="18" fill="#FFEB9C"/>
<rect x="144" y="543" width="16" height="18" fill="#FFE793"/>
<rect x="160" y="543" width="16" height="18" fill="#FEE38B"/>
<rect x="176" y="543" width="16" height="18" fill="#FEDF83"/>
<rect x="192" y="543" width="16" height="18" fill="#FEDB7A"/>
<rect x="208" y="543" width="16" height="18" fill="#FED572"/>
<rect x="224" y="543" width="16" height="18" fill="#FECD69"/>
<rect x="240" y="543" width="16" height="18" fill="#FEC661"/>
<rect x="256" y="543" width="16" height="18" fill="#FEBE59"/>
<rect x="272" y="543" width="16" height="18" fill="#FEB650"/>
<rect x="288" y="543" width="16" height="18" fill="#FEAE4A"/>
<rect x="304" y="543" width="16" height="18" fill="#FEA747"/>
<rect x="320" y="543" width="16" height="18" fill="#FEA044"/>
<rect x="336" y="543" width="16" height="18" fill="#FD9841"/>
<rect x="352" y="543" width="16" height="18" fill="#FD913E"/>
<rect x="368" y="543" width="16" height="18" fill="#FD873A"/>
<rect x="384" y="543" width="16" height="18" fill="#FD7A37"/>
<rect x="400" y="543" width="16" height="18" fill="#FC6E33"/>
<rect x="416" y="543" width="16" height="18" fill="#FC612F"/>
<rect x="432" y="543" width="16" height="18" fill="#FC542C"/>
<rect x="448" y="543" width="16" height="18" fill="#FA4929"/>
<rect x="464" y="543" width="16" height="18" fill="#F43E26"/>
<rect x="480" y="543" width="16" height="18" fill="#F03423"/>
<rect x="496" y="543" width="16" height="18" fill="#EA2A20"/>
<rect x="512" y="543" width="16" height="18" fill="#E61F1D"/>
<rect x="528" y="543" width="16" height="18" fill="#DF171D"/>
<rect x="544" y="543" width="16" height="18" fill="#D8121F"/>
<rect x="560" y="543" width="16" height="18" fill="#D00D21"/>
<rect x="576" y="543" width="16" height="18" fill="#C80823"/>
<rect x="592" y="543" width="16" height="18" fill="#C10325"/>
<rect x="608" y="543" width="16" height="18" fill="#B70026"/>
<rect x="624" y="543" width="16" height="18" fill="#AB0026"/>
<rect x="640" y="543" width="16" height="18" fill="#9E0026"/>
<rect x="656" y="543" width="16" height="18" fill="#920026"/>
<rect x="672" y="543" width="17" height="18" fill="#860026"/>
<rect x="48" y="561" width="1" height="3" fill="#000"/>
<rect x="64" y="561" width="1" height="3" fill="#000"/>
<rect x="80" y="561" width="1" height="3" fill="#000"/>
<rect x="96" y="561" width="1" height="3" fill="#000"/>
<rect x="112" y="561" width="1" height="3" fill="#000"/>
<rect x="128" y="561" width="1" height="3" fill="#000"/>
<rect x="144" y="561" width="1" height="3" fill="#000"/>
<rect x="160" y="561" width="1" height="3" fill="#000"/>
<rect x="176" y="561" width="1" height="3" fill="#000"/>
<rect x="192" y="561" width="1" height="3" fill="#000"/>
<rect x="208" y="561" width="1" height="3" fill="#000"/>
<rect x="224" y="561" width="1" height="3" fill="#000"/>
<rect x="240" y="561" width="1" height="3" fill="#000"/>
<rect x="256" y="561" width="1" height="3" fill="#000"/>
<rect x="272" y="561" width="1" height="3" fill="#000"/>
<rect x="288" y="561" width="1" height="3" fill="#000"/>
<rect x="304" y="561" width="1" height="3" fill="#000"/>
<rect x="320" y="561" width="1" height="3" fill="#000"/>
<rect x="336" y="561" width="1" height="3" fill="#000"/>
<rect x="352" y="561" width="1" height="3" fill="#000"/>
<rect x="368" y="561" width="1" height="3" fill="#000"/>
<rect x="384" y="561" width="1" height="3" fill="#000"/>
<rect x="400" y="561" width="1" height="3" fill="#000"/>
<rect x="416" y="561" width="1" height="3" fill="#000"/>
<rect x="432" y="561" width="1" height="3" fill="#000"/>
<rect x="448" y="561" width="1" height="3" fill="#000"/>
<rect x="464" y="561" width="1" height="3" fill="#000"/>
<rect x="480" y="561" width="1" height="3" fill="#000"/>
<rect x="496" y="561" width="1" height="3" fill="#000"/>
<rect x="512" y="561" width="1" height="3" fill="#000"/>
<rect x="528" y="561" width="1" height="3" fill="#000"/>
<rect x="544" y="561" width="1" height="3" fill="#000"/>
<rect x="560" y="561" width="1" height="3" fill="#000"/>
<rect x="576" y="561" width="1" height="3" fill="#000"/>
<rect x="592" y="561" width="1" height="3" fill="#000"/>
<rect x="608" y="561" width="1" height="3" fill="#000"/>
<rect x="624" y="561" width="1" height="3" fill="#000"/>
<rect x="640" y="561" width="1" height="3" fill="#000"/>
<rect x="656" y="561" width="1" height="3" fill="#000"/>
<rect x="672" y="561" width="1" height="3" fill="#000"/>
<rect x="688" y="561" width="1" height="3" fill="#000"/>
</g>
<g opacity="0.999">
<text x="120.7" y="515" text-anchor="middle" class="t12" textLength="27" lengthAdjust="spacingAndGlyphs">-68°</text>
<text x="237.7" y="515" text-anchor="middle" class="t12" textLength="27" lengthAdjust="spacingAndGlyphs">-67°</text>
<text x="355.7" y="515" text-anchor="middle" class="t12" textLength="27" lengthAdjust="spacingAndGlyphs">-66°</text>
<text x="472.7" y="515" text-anchor="middle" class="t12" textLength="27" lengthAdjust="spacingAndGlyphs">-65°</text>
<text x="589.7" y="515" text-anchor="middle" class="t12" textLength="27" lengthAdjust="spacingAndGlyphs">-64°</text>
<text transform="translate(22.6,53.7) rotate(-90)" text-anchor="middle" class="t12" textLength="21" lengthAdjust="spacingAndGlyphs">20°</text>
<text transform="translate(22.6,168.4) rotate(-90)" text-anchor="middle" class="t12" textLength="21" lengthAdjust="spacingAndGlyphs">19°</text>
<text transform="translate(22.6,286.4) rotate(-90)" text-anchor="middle" class="t12" textLength="21" lengthAdjust="spacingAndGlyphs">18°</text>
<text transform="translate(22.6,403.4) rotate(-90)" text-anchor="middle" class="t12" textLength="21" lengthAdjust="spacingAndGlyphs">17°</text>
<text x="47.2" y="576" text-anchor="middle" class="t12" textLength="7.0" lengthAdjust="spacingAndGlyphs">0</text>
<text x="110.8" y="576" text-anchor="middle" class="t12" textLength="19.2" lengthAdjust="spacingAndGlyphs">0.1</text>
<text x="174.8" y="576" text-anchor="middle" class="t12" textLength="19.2" lengthAdjust="spacingAndGlyphs">0.2</text>
<text x="238.8" y="576" text-anchor="middle" class="t12" textLength="19.2" lengthAdjust="spacingAndGlyphs">0.3</text>
<text x="302.8" y="576" text-anchor="middle" class="t12" textLength="19.2" lengthAdjust="spacingAndGlyphs">0.4</text>
<text x="366.8" y="576" text-anchor="middle" class="t12" textLength="19.2" lengthAdjust="spacingAndGlyphs">0.5</text>
<text x="430.8" y="576" text-anchor="middle" class="t12" textLength="19.2" lengthAdjust="spacingAndGlyphs">0.6</text>
<text x="494.8" y="576" text-anchor="middle" class="t12" textLength="19.2" lengthAdjust="spacingAndGlyphs">0.7</text>
<text x="558.8" y="576" text-anchor="middle" class="t12" textLength="19.2" lengthAdjust="spacingAndGlyphs">0.8</text>
<text x="622.8" y="576" text-anchor="middle" class="t12" textLength="19.2" lengthAdjust="spacingAndGlyphs">0.9</text>
<text x="688.8" y="576" text-anchor="middle" class="t12" textLength="7.0" lengthAdjust="spacingAndGlyphs">1</text>
<text x="48.40" y="594" class="t10b" textLength="30.80" lengthAdjust="spacingAndGlyphs">Daily</text>
<text x="84.10" y="594" class="t10b" textLength="48.00" lengthAdjust="spacingAndGlyphs">Aerosol</text>
<text x="136.50" y="594" class="t10b" textLength="44.80" lengthAdjust="spacingAndGlyphs">Optical</text>
<text x="185.40" y="594" class="t10b" textLength="64.60" lengthAdjust="spacingAndGlyphs">Thickness</text>
<text x="254.40" y="594" class="t10b" textLength="35.30" lengthAdjust="spacingAndGlyphs">(AOT)</text>
<text x="294.10" y="594" class="t10b" textLength="13.60" lengthAdjust="spacingAndGlyphs">at</text>
<text x="311.40" y="594" class="t10b" textLength="27.00" lengthAdjust="spacingAndGlyphs">0.55</text>
<text x="342.80" y="594" class="t10b" textLength="42.50" lengthAdjust="spacingAndGlyphs">micron</text>
<text x="389.40" y="594" class="t10b" textLength="16.90" lengthAdjust="spacingAndGlyphs">for</text>
<text x="411.10" y="594" class="t10b" textLength="29.50" lengthAdjust="spacingAndGlyphs">both</text>
<text x="445.30" y="594" class="t10b" textLength="38.20" lengthAdjust="spacingAndGlyphs">ocean</text>
<text x="488.30" y="594" class="t10b" textLength="60.60" lengthAdjust="spacingAndGlyphs">(Average)</text>
<text x="554.40" y="594" class="t10b" textLength="49.70" lengthAdjust="spacingAndGlyphs">(Quality</text>
<text x="608.50" y="594" class="t10b" textLength="24.90" lengthAdjust="spacingAndGlyphs">flag</text>
<text x="638.70" y="594" class="t10b" textLength="8.80" lengthAdjust="spacingAndGlyphs">=</text>
<text x="651.90" y="594" class="t10b" textLength="10.70" lengthAdjust="spacingAndGlyphs">1,</text>
<text x="48.40" y="605" class="t10b" textLength="10.60" lengthAdjust="spacingAndGlyphs">2,</text>
<text x="63.90" y="605" class="t10b" textLength="11.60" lengthAdjust="spacingAndGlyphs">3)</text>
<text x="81.40" y="605" class="t10b" textLength="22.70" lengthAdjust="spacingAndGlyphs">and</text>
<text x="108.90" y="605" class="t10b" textLength="26.80" lengthAdjust="spacingAndGlyphs">land</text>
<text x="141.00" y="605" class="t10b" textLength="71.40" lengthAdjust="spacingAndGlyphs">(corrected)</text>
<text x="216.80" y="605" class="t10b" textLength="49.40" lengthAdjust="spacingAndGlyphs">(Quality</text>
<text x="270.60" y="605" class="t10b" textLength="24.50" lengthAdjust="spacingAndGlyphs">flag</text>
<text x="300.00" y="605" class="t10b" textLength="10.00" lengthAdjust="spacingAndGlyphs">=</text>
<text x="313.60" y="605" class="t10b" textLength="14.50" lengthAdjust="spacingAndGlyphs">3a</text>
<text x="333.40" y="605" class="t10b" textLength="47.60" lengthAdjust="spacingAndGlyphs">derived</text>
<text x="384.90" y="605" class="t10b" textLength="29.90" lengthAdjust="spacingAndGlyphs">from</text>
<text x="419.20" y="605" class="t10b" textLength="30.40" lengthAdjust="spacingAndGlyphs">VIIRS</text>
<text x="454.00" y="605" class="t10b" textLength="15.80" lengthAdjust="spacingAndGlyphs">on</text>
<text x="474.20" y="605" class="t10b" textLength="37.70" lengthAdjust="spacingAndGlyphs">SNPP)</text>
<text x="48.40" y="616" class="t10n" textLength="72.80" lengthAdjust="spacingAndGlyphs">Experimental</text>
<text x="126.20" y="616" class="t10n" textLength="21.20" lengthAdjust="spacingAndGlyphs">NRT</text>
<text x="152.40" y="616" class="t10n" textLength="26.20" lengthAdjust="spacingAndGlyphs">daily</text>
<text x="182.10" y="616" class="t10n" textLength="23.10" lengthAdjust="spacingAndGlyphs">AOT</text>
<text x="210.10" y="616" class="t10n" textLength="57.90" lengthAdjust="spacingAndGlyphs">composite</text>
<text x="272.10" y="616" class="t10n" textLength="26.60" lengthAdjust="spacingAndGlyphs">from</text>
<text x="303.10" y="616" class="t10n" textLength="20.50" lengthAdjust="spacingAndGlyphs">NPP</text>
<text x="327.60" y="616" class="t10n" textLength="28.80" lengthAdjust="spacingAndGlyphs">VIIRS</text>
<text x="360.90" y="616" class="t10n" textLength="42.50" lengthAdjust="spacingAndGlyphs">created</text>
<text x="407.50" y="616" class="t10n" textLength="27.30" lengthAdjust="spacingAndGlyphs">from</text>
<text x="439.20" y="616" class="t10n" textLength="67.80" lengthAdjust="spacingAndGlyphs">Unprojected</text>
<text x="511.40" y="616" class="t10n" textLength="34.20" lengthAdjust="spacingAndGlyphs">Swath</text>
<text x="550.20" y="616" class="t10n" textLength="28.60" lengthAdjust="spacingAndGlyphs">Data.</text>
<text x="48.40" y="627" class="t10n" textLength="137.40" lengthAdjust="spacingAndGlyphs">(2025-11-12T12:00:00Z)</text>
<text x="48.40" y="638" class="t10n" textLength="25.00" lengthAdjust="spacingAndGlyphs">Data</text>
<text x="78.40" y="638" class="t10n" textLength="48.30" lengthAdjust="spacingAndGlyphs">courtesy</text>
<text x="132.00" y="638" class="t10n" textLength="10.50" lengthAdjust="spacingAndGlyphs">of</text>
<text x="146.80" y="638" class="t10n" textLength="142.50" lengthAdjust="spacingAndGlyphs">NOAA/AOML/PHOD/Atlantic</text>
<text x="297.70" y="638" class="t10n" textLength="68.30" lengthAdjust="spacingAndGlyphs">OceanWatch</text>
</g>
</svg>
</body></html>
